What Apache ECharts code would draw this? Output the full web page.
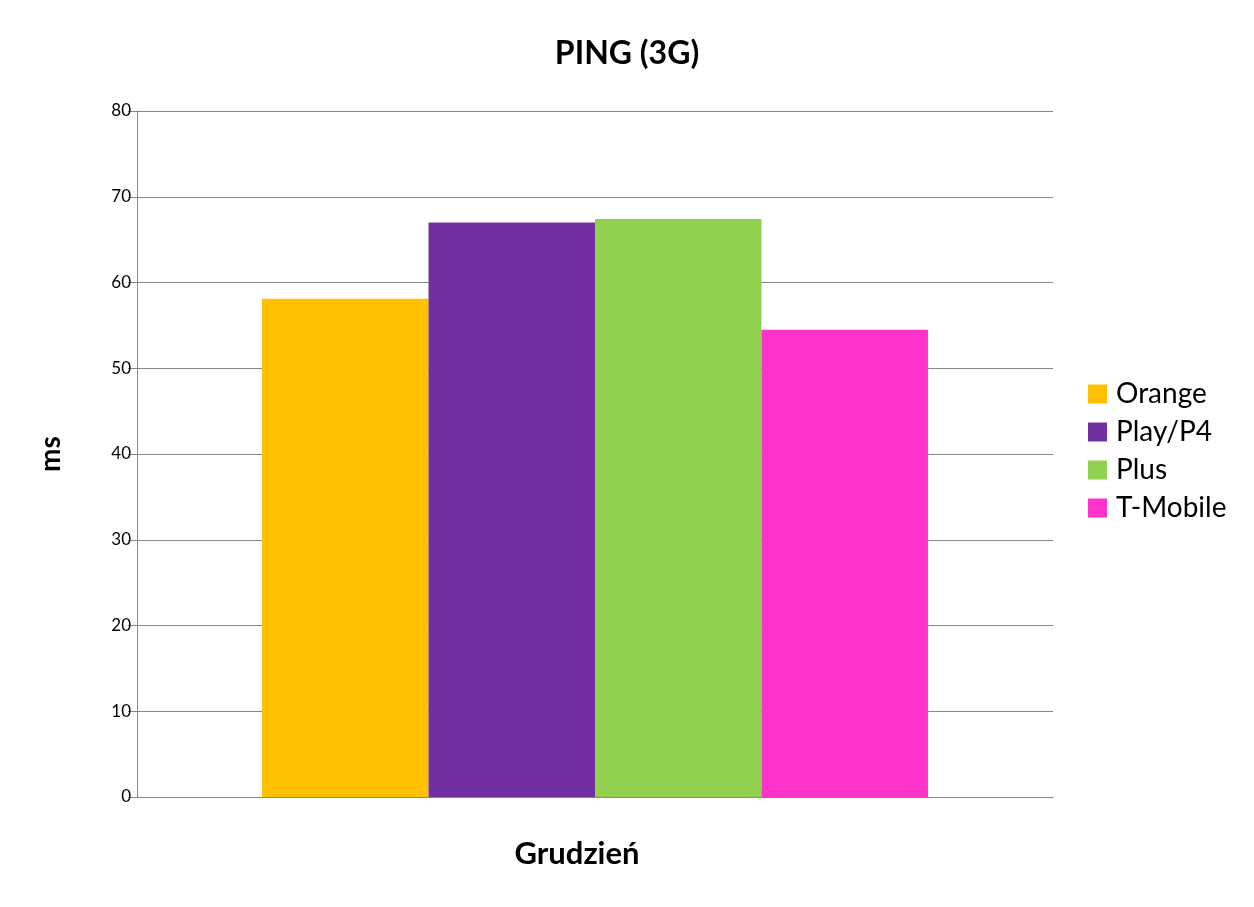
<!DOCTYPE html>
<html>
<head>
<meta charset="utf-8">
<script src="https://cdn.jsdelivr.net/npm/echarts@6/dist/echarts.min.js"></script>
<style>
html, body { margin: 0; padding: 0; background: #fff; }
#main { width: 1254px; height: 907px; }
</style>
</head>
<body>
<div id="main"></div>
<script>
var categories = ['Grudzień'];
var seriesNames = ['Orange', 'Play/P4', 'Plus', 'T-Mobile'];
var seriesColors = ['#FFC000', '#7030A0', '#92D050', '#FF33CC'];
var orangeValues = [58.1];
var playValues = [67.0];
var plusValues = [67.4];
var tmobileValues = [54.5];
var yTicks = [0, 80, 10];

var chart = echarts.init(document.getElementById('main'));
var font = 'Lato, "Open Sans", sans-serif';
var allValues = [orangeValues, playValues, plusValues, tmobileValues];

var option = {
    backgroundColor: '#ffffff',
    animation: false,
    title: {
        text: 'PING (3G)',
        left: 'center',
        top: 33,
        textStyle: { fontFamily: font, fontSize: 32, fontWeight: 'bold', color: '#000' }
    },
    legend: {
        orient: 'vertical',
        left: 1083,
        top: 375,
        itemWidth: 19,
        itemHeight: 19,
        itemGap: 10,
        icon: 'rect',
        data: seriesNames,
        textStyle: { fontFamily: font, fontSize: 28, color: '#000', padding: [0, 0, 0, 4] }
    },
    grid: { left: 137, right: 201, top: 111, bottom: 110 },
    xAxis: {
        type: 'category',
        data: categories,
        name: categories[0],
        nameLocation: 'middle',
        nameGap: 41,
        nameTextStyle: { fontFamily: font, fontSize: 31, fontWeight: 'bold', color: '#000', padding: [0, 36, 0, 0] },
        axisLabel: { show: false },
        axisTick: { show: false },
        axisLine: { show: true, lineStyle: { color: '#868686', width: 1 } }
    },
    yAxis: {
        type: 'value',
        min: yTicks[0],
        max: yTicks[1],
        interval: yTicks[2],
        name: 'ms',
        nameLocation: 'middle',
        nameGap: 72,
        nameRotate: 90,
        nameTextStyle: { fontFamily: font, fontSize: 28, fontWeight: 'bold', color: '#000' },
        axisLine: { show: true, lineStyle: { color: '#868686', width: 1 } },
        axisTick: { show: true, length: 9, lineStyle: { color: '#868686' } },
        axisLabel: { fontFamily: font, fontSize: 17, color: '#000', margin: 6 },
        splitLine: { show: true, lineStyle: { color: '#868686', width: 1 } }
    },
    series: seriesNames.map(function (name, i) {
        return {
            name: name,
            type: 'bar',
            data: allValues[i],
            barGap: '0%',
            barCategoryGap: '27.3%',
            itemStyle: { color: seriesColors[i] }
        };
    })
};

chart.setOption(option);
</script>
</body>
</html>
